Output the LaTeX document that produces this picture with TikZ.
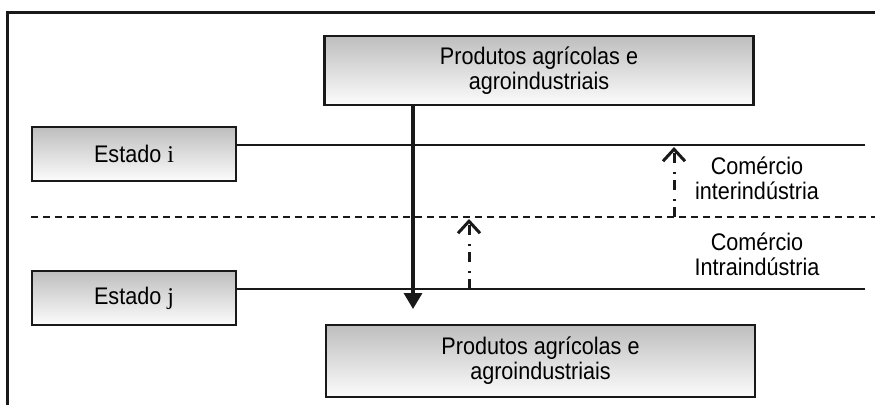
\documentclass[tikz,border=0pt]{standalone}
\usepackage{fontspec}
\setmainfont{Liberation Sans}[FakeStretch=0.9]
\newfontfamily\letterfont{Liberation Serif}
\usetikzlibrary{arrows.meta}
\definecolor{inkgrey}{RGB}{25,25,25}
\definecolor{shadetop}{RGB}{190,190,190}
\definecolor{shadebottom}{RGB}{252,252,252}
\tikzset{
  statebox/.style={draw=inkgrey,line width=2.4pt,top color=shadetop,
    bottom color=shadebottom,minimum width=204pt,minimum height=54pt,
    inner sep=0pt,align=center,font=\fontsize{24}{25}\selectfont},
  productbox/.style={statebox,minimum width=429pt,minimum height=69pt},
  levelline/.style={draw=inkgrey,line width=2pt},
  borderline/.style={draw=inkgrey,line width=3pt},
  splitline/.style={draw=inkgrey,line width=2pt,dash pattern=on 7pt off 5pt},
  mainflow/.style={-{Triangle[length=16pt,width=18pt]},line width=3.4pt,
    draw=inkgrey},
  tradeflow/.style={-{Straight Barb[length=12pt,width=22pt,line width=3pt]},
    line width=3pt,draw=inkgrey,
    dash pattern=on 10pt off 6pt on 2.5pt off 8.5pt},
  tradelabel/.style={align=center,inner sep=0pt,
    font=\fontsize{24}{25}\selectfont}
}
\begin{document}
\begin{tikzpicture}[x=1pt,y=-1pt]
  \useasboundingbox (0,0) rectangle (875,405);
  \draw[borderline] (7,405) -- (7,12) -- (875,12);
  \node[productbox] (prodtop) at (539,70.5)
    {Produtos agrícolas e\\agroindustriais};
  \node[productbox,minimum height=72pt] (prodbot) at (540.5,361)
    {Produtos agrícolas e\\agroindustriais};
  \node[statebox] (estadoi) at (134,154) {Estado {\letterfont i}};
  \node[statebox] (estadoj) at (134,298) {Estado {\letterfont j}};
  \coordinate (iend) at (865,145);
  \coordinate (jend) at (865,289);
  \coordinate (splitwest) at (31,217);
  \coordinate (spliteast) at (875,217);
  \coordinate (flowend) at (413,309);
  \coordinate (interfoot) at (674,217);
  \coordinate (intertip) at (674,147);
  \coordinate (intrafoot) at (469,289);
  \coordinate (intratip) at (469,219);
  \node[tradelabel] (intertext) at (757,178) {Comércio\\interindústria};
  \node[tradelabel] (intratext) at (757,254) {Comércio\\Intraindústria};
  \draw[levelline] ([yshift=9pt]estadoi.east) -- (iend);
  \draw[levelline] ([yshift=9pt]estadoj.east) -- (jend);
  \draw[splitline] (splitwest) -- (spliteast);
  \draw[mainflow] (prodtop.south -| flowend) -- (flowend);
  \draw[tradeflow] (interfoot) -- (intertip);
  \draw[tradeflow] (intrafoot) -- (intratip);
\end{tikzpicture}
\end{document}
